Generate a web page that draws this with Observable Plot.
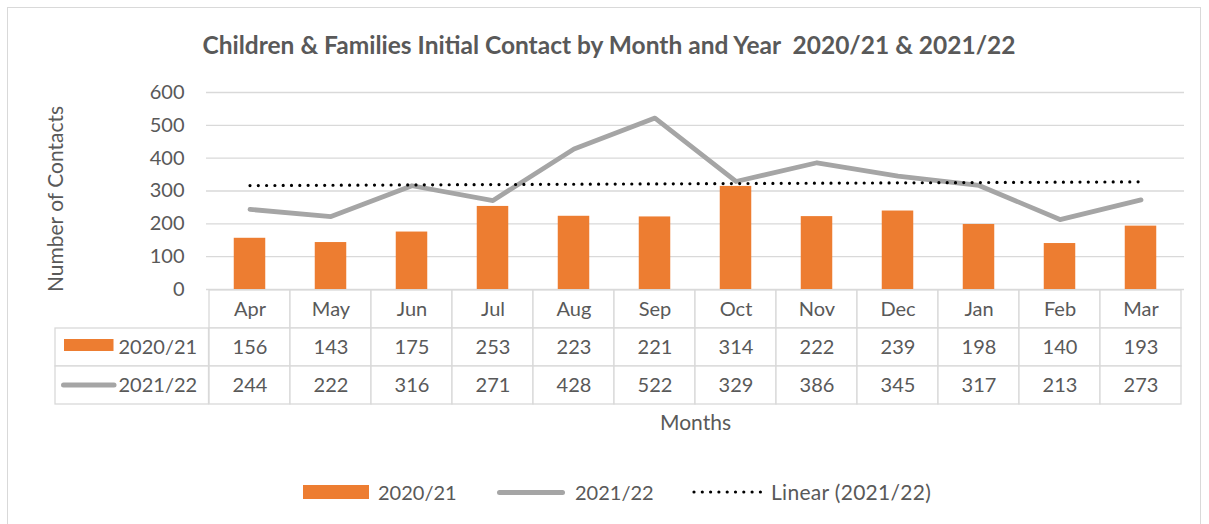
<!DOCTYPE html>
<html><head><meta charset="utf-8">
<script src="https://cdn.jsdelivr.net/npm/d3@7"></script>
<script src="https://cdn.jsdelivr.net/npm/@observablehq/plot@0.6"></script>
<style>
body{margin:0;background:#fff;font-family:Lato,"Open Sans",sans-serif;}
#wrap{position:relative;width:1209px;height:524px;overflow:hidden;background:#fff;}
#frame{position:absolute;left:7px;top:7px;width:1192px;height:540px;border:1.5px solid #d9d9d9;}
#title{position:absolute;left:0;width:1218px;top:31px;text-align:center;font-weight:bold;font-size:24.5px;line-height:28px;color:#595959;font-family:Lato,sans-serif;}
.abs{position:absolute;left:0;}
.lg{position:absolute;font-size:20px;line-height:24px;color:#595959;font-family:Lato,sans-serif;white-space:nowrap;}
</style>
</head><body>
<div id="wrap">
  <div id="frame"></div>
  <div id="title">Children &amp; Families Initial Contact by Month and Year&nbsp; 2020/21 &amp; 2021/22</div>
  <div id="main" class="abs" style="top:0"></div>
  <div id="table" class="abs" style="top:289px"></div>
  <div id="legend"></div>
</div>
<script>
const months = ["Apr","May","Jun","Jul","Aug","Sep","Oct","Nov","Dec","Jan","Feb","Mar"];
const series = ["2020/21","2021/22"];
const v2021 = [156,143,175,253,223,221,314,222,239,198,140,193];
const v2122 = [244,222,316,271,428,522,329,386,345,317,213,273];
const yTicks = [0,100,200,300,400,500,600];
const trendLabel = "Linear (2021/22)";

const ORANGE = "#ED7D31", GREY = "#A5A5A5", TXT = "#595959", GRID = "#d9d9d9";

const bars = months.map((m,i)=>({month:m, value:v2021[i]}));
const line = months.map((m,i)=>({month:m, value:v2122[i]}));
// least-squares trend of 2021/22 (as Excel's linear trendline)
const idx = d3.range(v2122.length);
const mx = d3.mean(idx), my = d3.mean(v2122);
const slope = d3.sum(idx, i => (i-mx)*(v2122[i]-my)) / d3.sum(idx, i => (i-mx)**2);
const trend = months.map((m,i)=>({month:m, value: my + slope*(i-mx)}));

const main = Plot.plot({
  width:1209, height:295, marginTop:92, marginBottom:6, marginLeft:206, marginRight:25,
  style:{fontFamily:"Lato, sans-serif", fontSize:"20px", color:TXT, background:"transparent", overflow:"visible"},
  x:{domain:months, padding:0, axis:null},
  y:{domain:[0,600], axis:null},
  marks:[
    Plot.gridY(yTicks, {stroke:GRID, strokeOpacity:1, strokeWidth:1.3}),
    Plot.axisY(yTicks, {tickSize:0, tickPadding:22, fontSize:20, fill:TXT, label:null}),
    Plot.barY(bars, {x:"month", y:"value", fill:ORANGE, insetLeft:24.75, insetRight:24.75}),
    Plot.line(line, {x:"month", y:"value", stroke:GREY, strokeWidth:4.8, strokeLinecap:"round", strokeLinejoin:"round"}),
    Plot.line(trend, {x:"month", y:"value", stroke:"#000", strokeWidth:3.2, strokeDasharray:"0 8.3", strokeLinecap:"round"}),
    Plot.text(["Number of Contacts"], {text:d=>d, frameAnchor:"left", rotate:-90, dx:-150, dy:8, textAnchor:"middle", lineAnchor:"middle", fontSize:21, fill:TXT, letterSpacing:"0.8px"})
  ]
});
document.getElementById("main").appendChild(main);

const rows = ["Month", ...series];
const tableData = [
  ...months.map(m=>({month:m,row:"Month",label:m})),
  ...months.map((m,i)=>({month:m,row:series[0],label:String(v2021[i])})),
  ...months.map((m,i)=>({month:m,row:series[1],label:String(v2122[i])}))
];
const bw = (1209-206-25)/months.length;
const table = Plot.plot({
  width:1209, height:150, marginTop:1, marginBottom:35, marginLeft:206, marginRight:25,
  style:{fontFamily:"Lato, sans-serif", fontSize:"20px", color:TXT, background:"transparent", overflow:"visible"},
  x:{domain:months, padding:0, axis:null},
  y:{domain:rows, padding:0, axis:null},
  marks:[
    Plot.cell(tableData, {x:"month", y:"row", fill:"white", stroke:GRID, strokeWidth:1.3}),
    Plot.cell(series, {x:()=>months[0], y:d=>d, insetLeft:-154, insetRight:bw, fill:"white", stroke:GRID, strokeWidth:1.3}),
    Plot.cell([series[0]], {x:()=>months[0], y:d=>d, insetLeft:-145, insetRight:bw+95, insetTop:11, insetBottom:15, fill:ORANGE}),
    Plot.cell([series[1]], {x:()=>months[0], y:d=>d, insetLeft:-148, insetRight:bw+92, insetTop:16.5, insetBottom:16.5, fill:GREY, rx:2.5}),
    Plot.text(series, {y:d=>d, text:d=>d, frameAnchor:"left", dx:-88, textAnchor:"start", fontSize:20, fill:TXT}),
    Plot.text(tableData, {x:"month", y:"row", text:"label", fontSize:20, fill:TXT}),
    Plot.text(["Months"], {text:d=>d, frameAnchor:"bottom", lineAnchor:"middle", dy:19, fontSize:21, fill:TXT, letterSpacing:"1.4px"})
  ]
});
document.getElementById("table").appendChild(table);

// bottom legend
const lg = document.getElementById("legend");
lg.innerHTML = `
  <div style="position:absolute;left:303px;top:485px;width:66px;height:14px;background:${ORANGE}"></div>
  <div class="lg" style="left:378px;top:480px">${series[0]}</div>
  <div style="position:absolute;left:497px;top:489.5px;width:68px;height:5px;border-radius:2.5px;background:${GREY}"></div>
  <div class="lg" style="left:575px;top:480px">${series[1]}</div>
  <svg style="position:absolute;left:690px;top:486px" width="76" height="12"><line x1="4" x2="72" y1="6" y2="6" stroke="#000" stroke-width="3.2" stroke-dasharray="0 8.3" stroke-linecap="round"/></svg>
  <div class="lg" style="left:771px;top:480px;font-size:21px;letter-spacing:0.3px">${trendLabel}</div>`;
</script>
</body></html>
